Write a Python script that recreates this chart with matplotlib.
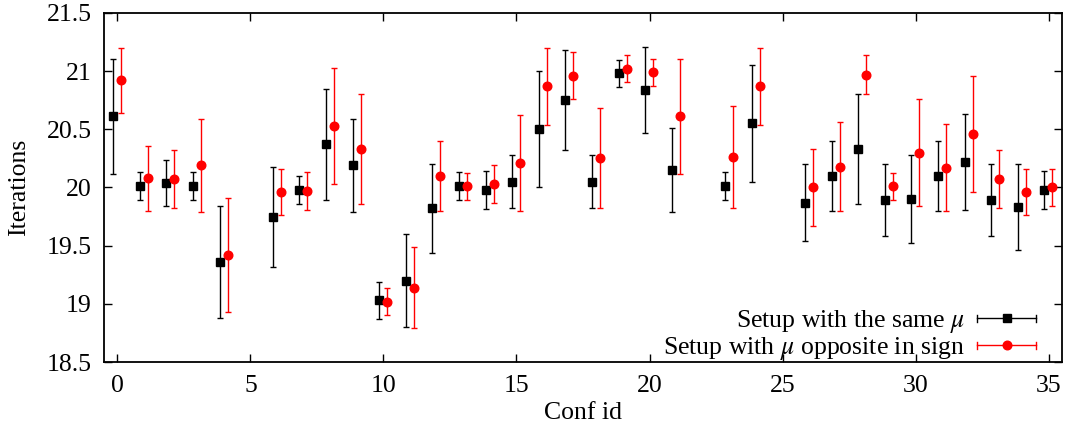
import matplotlib
matplotlib.use("Agg")
import matplotlib.pyplot as plt
from matplotlib.lines import Line2D
from matplotlib.legend_handler import HandlerBase
import numpy as np

plt.rcParams['font.family'] = ['Liberation Serif', 'DejaVu Serif']
plt.rcParams['mathtext.fontset'] = 'stix'

conf_ids = [0, 1, 2, 3, 4, 6, 7, 8, 9, 10, 11, 12, 13, 14, 15, 16, 17, 18, 19, 20,
            21, 23, 24, 26, 27, 28, 29, 30, 31, 32, 33, 34, 35]

same_mu = [20.61, 20.01, 20.04, 20.01, 19.36, 19.75, 19.98, 20.37, 20.19, 19.03,
           19.20, 19.82, 20.01, 19.98, 20.05, 20.50, 20.75, 20.05, 20.98, 20.84,
           20.15, 20.01, 20.55, 19.87, 20.10, 20.33, 19.89, 19.90, 20.10, 20.22,
           19.89, 19.83, 19.98]
same_err = [0.49, 0.12, 0.20, 0.12, 0.48, 0.43, 0.12, 0.48, 0.40, 0.16,
            0.40, 0.385, 0.12, 0.165, 0.23, 0.50, 0.43, 0.23, 0.115, 0.37,
            0.36, 0.12, 0.50, 0.33, 0.30, 0.47, 0.31, 0.38, 0.30, 0.41,
            0.31, 0.37, 0.165]

opp_mu = [20.92, 20.08, 20.07, 20.19, 19.42, 19.96, 19.97, 20.53, 20.33, 19.02,
          19.14, 20.10, 20.01, 20.03, 20.21, 20.87, 20.96, 20.25, 21.02, 20.99,
          20.61, 20.26, 20.87, 20.00, 20.18, 20.97, 20.01, 20.30, 20.17, 20.46,
          20.07, 19.96, 20.00]
opp_err = [0.28, 0.28, 0.25, 0.40, 0.49, 0.20, 0.165, 0.50, 0.47, 0.115,
           0.35, 0.30, 0.115, 0.165, 0.41, 0.33, 0.20, 0.43, 0.115, 0.115,
           0.49, 0.44, 0.33, 0.33, 0.385, 0.165, 0.115, 0.46, 0.375, 0.50,
           0.25, 0.20, 0.16]

x_ticks = [0, 5, 10, 15, 20, 25, 30, 35]
y_ticks = [18.5, 19, 19.5, 20, 20.5, 21, 21.5]
y_tick_labels = ["18.5", "19", "19.5", "20", "20.5", "21", "21.5"]

FS = 18.5

fig = plt.figure(figsize=(10.67, 4.30), dpi=100)
ax = fig.add_axes([0.0975, 0.158, 0.8978, 0.812])

x = np.array(conf_ids, dtype=float)
ax.errorbar(x - 0.16, same_mu, yerr=same_err, fmt='s', color='black',
            ecolor='black', elinewidth=1.0, capsize=2.5, capthick=1.0,
            markersize=6.2, zorder=3)
ax.errorbar(x + 0.14, opp_mu, yerr=opp_err, fmt='o', color='red',
            ecolor='red', elinewidth=1.0, capsize=2.5, capthick=1.0,
            markersize=6.2, zorder=4)

ax.set_xlim(-0.5, 35.5)
ax.set_ylim(18.5, 21.5)
ax.set_xticks(x_ticks)
ax.set_yticks(y_ticks)
ax.set_yticklabels(y_tick_labels)
ax.tick_params(direction='in', length=6, width=1.0, top=True, right=True,
               labelsize=FS, pad=9)
for s in ax.spines.values():
    s.set_linewidth(1.3)

ax.set_xlabel("Conf id", fontsize=FS, labelpad=4)
ax.set_ylabel("Iterations", fontsize=FS, labelpad=12)


class HBarHandler(HandlerBase):
    def __init__(self, color, marker, ms):
        super().__init__()
        self.color = color
        self.marker = marker
        self.ms = ms

    def create_artists(self, legend, orig_handle, xdescent, ydescent, width,
                       height, fontsize, trans):
        y = height / 2.0 - ydescent
        x0, x1 = -xdescent, width - xdescent
        line = Line2D([x0, x1], [y, y], color=self.color, lw=1.0, transform=trans)
        c1 = Line2D([x0, x0], [y - 2.5, y + 2.5], color=self.color, lw=1.0, transform=trans)
        c2 = Line2D([x1, x1], [y - 2.5, y + 2.5], color=self.color, lw=1.0, transform=trans)
        m = Line2D([(x0 + x1) / 2], [y], marker=self.marker, color=self.color,
                   markersize=self.ms, linestyle='none', transform=trans)
        return [line, c1, c2, m]


h1 = Line2D([], [])
h2 = Line2D([], [])
leg = ax.legend([h1, h2],
                [r"Setup with the same $\mu$", r"Setup with $\mu$ opposite in sign"],
                handler_map={h1: HBarHandler('black', 's', 6.2),
                             h2: HBarHandler('red', 'o', 6.2)},
                loc='lower right', frameon=False, markerfirst=False,
                fontsize=FS, handlelength=2.3, handletextpad=0.47,
                labelspacing=0.0, borderpad=0.0, borderaxespad=0.0,
                bbox_to_anchor=(0.973, 0.0))
for t in leg.get_texts():
    t.set_ha('right')
leg._legend_box.align = 'right'

fig.savefig("out.png", dpi=100)
